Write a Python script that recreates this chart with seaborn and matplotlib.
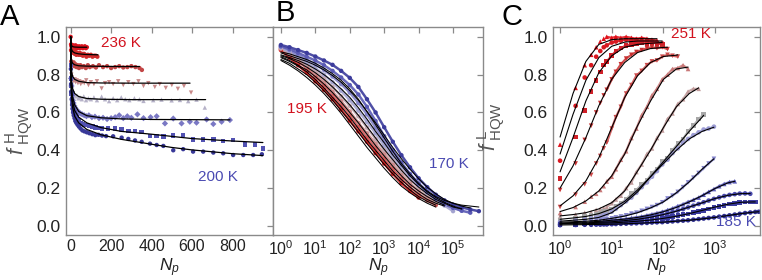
import numpy as np
import pandas as pd
import matplotlib
matplotlib.use("Agg")
import matplotlib.pyplot as plt
import seaborn as sns

# ================= Panel A data (linear Np) =================
a1_x = [0, 2, 4, 6, 8, 10, 12, 15, 18, 21, 24, 27, 30, 34, 38, 42, 46, 50, 55, 60, 65, 70, 75, 80]
a1_f = [1.00, 0.96, 0.95, 0.955, 0.945, 0.95, 0.955, 0.945, 0.95, 0.94, 0.955, 0.945, 0.95, 0.94, 0.945, 0.95, 0.94, 0.945, 0.95, 0.94, 0.945, 0.95, 0.94, 0.945]
a1_fit_x = [0, 1, 3, 6, 10, 20, 40, 80]
a1_fit_f = [1.0, 0.975, 0.96, 0.952, 0.948, 0.946, 0.945, 0.945]

a2_x = [2, 5, 8, 11, 14, 17, 20, 24, 28, 32, 36, 40, 45, 50, 55, 60, 66, 72, 78, 85, 92, 100, 108, 116, 124, 132]
a2_f = [0.93, 0.925, 0.92, 0.93, 0.915, 0.925, 0.91, 0.92, 0.905, 0.915, 0.91, 0.905, 0.915, 0.905, 0.91, 0.9, 0.91, 0.905, 0.895, 0.905, 0.9, 0.905, 0.895, 0.9, 0.9, 0.895]
a2_fit_x = [0, 1, 3, 6, 10, 20, 40, 70, 100, 135]
a2_fit_f = [1.0, 0.96, 0.94, 0.93, 0.922, 0.915, 0.91, 0.907, 0.906, 0.905]

a3_x = [3, 7, 11, 15, 19, 24, 29, 35, 41, 48, 56, 65, 75, 85, 95, 110, 125, 140, 160, 180, 200, 220, 240, 260, 280, 300, 320, 340, 352]
a3_f = [0.87, 0.86, 0.85, 0.865, 0.845, 0.855, 0.84, 0.85, 0.835, 0.85, 0.84, 0.845, 0.835, 0.85, 0.84, 0.845, 0.838, 0.85, 0.84, 0.845, 0.835, 0.84, 0.845, 0.838, 0.84, 0.845, 0.84, 0.835, 0.825]
a3_fit_x = [0, 1, 3, 6, 10, 20, 40, 80, 150, 250, 340]
a3_fit_f = [1.0, 0.93, 0.89, 0.87, 0.86, 0.852, 0.847, 0.845, 0.844, 0.843, 0.843]

a4_x = [3, 6, 9, 12, 16, 20, 25, 30, 36, 43, 50, 58, 67, 77, 88, 100, 115, 130, 153, 170, 190, 210, 235, 260, 285, 310, 335, 360, 384, 416, 440, 470, 500, 530, 560, 595]
a4_f = [0.80, 0.785, 0.775, 0.77, 0.765, 0.775, 0.76, 0.77, 0.755, 0.765, 0.75, 0.76, 0.755, 0.77, 0.745, 0.76, 0.75, 0.765, 0.727, 0.755, 0.76, 0.75, 0.765, 0.745, 0.76, 0.75, 0.765, 0.74, 0.755, 0.735, 0.75, 0.73, 0.745, 0.725, 0.74, 0.705]
a4_fit_x = [0, 1, 3, 6, 10, 20, 40, 80, 150, 300, 590]
a4_fit_f = [1.0, 0.9, 0.84, 0.81, 0.79, 0.775, 0.765, 0.758, 0.756, 0.755, 0.755]

a5_x = [3, 6, 9, 12, 16, 20, 25, 31, 38, 46, 55, 65, 76, 88, 100, 115, 130, 153, 170, 190, 210, 230, 250, 270, 290, 315, 340, 360, 408, 449, 499, 540, 581, 622, 663]
a5_f = [0.76, 0.74, 0.72, 0.71, 0.70, 0.695, 0.685, 0.69, 0.675, 0.68, 0.67, 0.685, 0.665, 0.675, 0.67, 0.68, 0.665, 0.684, 0.67, 0.66, 0.675, 0.665, 0.68, 0.67, 0.665, 0.675, 0.67, 0.661, 0.665, 0.668, 0.664, 0.666, 0.66, 0.668, 0.626]
a5_fit_x = [0, 1, 3, 6, 10, 20, 40, 80, 150, 300, 667]
a5_fit_f = [1.0, 0.86, 0.79, 0.75, 0.725, 0.70, 0.684, 0.674, 0.67, 0.668, 0.668]

a6_x = [2, 4, 6, 8, 11, 14, 18, 22, 27, 33, 40, 48, 57, 67, 78, 90, 105, 120, 140, 160, 180, 200, 220, 240, 260, 280, 300, 330, 360, 395, 425, 466, 507, 548, 589, 622, 672, 705, 746, 787]
a6_f = [0.78, 0.74, 0.71, 0.69, 0.665, 0.65, 0.635, 0.625, 0.615, 0.61, 0.60, 0.595, 0.59, 0.585, 0.58, 0.585, 0.575, 0.578, 0.57, 0.572, 0.565, 0.57, 0.575, 0.585, 0.57, 0.58, 0.572, 0.59, 0.57, 0.575, 0.58, 0.542, 0.568, 0.542, 0.551, 0.546, 0.563, 0.539, 0.551, 0.56]
a6_fit_x = [0, 1, 3, 6, 10, 20, 40, 80, 150, 250, 400, 787]
a6_fit_f = [1.0, 0.84, 0.76, 0.71, 0.68, 0.64, 0.605, 0.583, 0.572, 0.566, 0.563, 0.561]

a7_x = [1, 2, 3, 5, 7, 9, 12, 15, 19, 23, 28, 34, 41, 49, 58, 68, 80, 93, 107, 122, 138, 155, 186, 219, 252, 285, 318, 351, 392, 425, 458, 507, 556, 605, 655, 705, 754, 803, 861, 910, 950]
a7_f = [0.85, 0.78, 0.74, 0.70, 0.67, 0.65, 0.63, 0.61, 0.60, 0.585, 0.575, 0.565, 0.555, 0.545, 0.54, 0.535, 0.535, 0.53, 0.525, 0.52, 0.518, 0.515, 0.515, 0.515, 0.51, 0.503, 0.503, 0.498, 0.475, 0.475, 0.472, 0.479, 0.48, 0.457, 0.457, 0.457, 0.45, 0.453, 0.43, 0.43, 0.41]
a7_fit_x = [0, 1, 3, 6, 10, 20, 40, 80, 150, 250, 400, 600, 800, 950]
a7_fit_f = [1.0, 0.83, 0.74, 0.69, 0.655, 0.61, 0.575, 0.545, 0.52, 0.5, 0.485, 0.462, 0.449, 0.441]

a8_x = [1, 2, 3, 5, 7, 9, 12, 15, 19, 23, 28, 34, 41, 49, 58, 68, 80, 93, 107, 122, 138, 155, 175, 210, 252, 285, 318, 351, 392, 425, 458, 507, 556, 605, 655, 705, 754, 803, 853, 902, 945]
a8_f = [0.83, 0.75, 0.71, 0.67, 0.64, 0.62, 0.60, 0.585, 0.57, 0.555, 0.545, 0.535, 0.525, 0.515, 0.505, 0.50, 0.495, 0.49, 0.485, 0.48, 0.482, 0.478, 0.475, 0.474, 0.467, 0.46, 0.452, 0.445, 0.435, 0.428, 0.423, 0.40, 0.406, 0.393, 0.393, 0.388, 0.384, 0.375, 0.375, 0.375, 0.379]
a8_fit_x = [0, 1, 3, 6, 10, 20, 40, 80, 150, 250, 400, 500, 600, 800, 950]
a8_fit_f = [1.0, 0.81, 0.71, 0.66, 0.625, 0.58, 0.545, 0.51, 0.482, 0.458, 0.432, 0.415, 0.402, 0.382, 0.372]

# ================= Panel B data (log Np) =================
B_Np = [1, 1.78, 3.16, 5.62, 10, 17.8, 31.6, 56.2, 100, 178, 316, 562, 1000, 1780,
        3160, 5620, 10000, 17800, 31600, 56200, 100000, 178000, 316000, 562000]
b1_f = [0.93, 0.89, 0.85, 0.81, 0.765, 0.72, 0.67, 0.615, 0.557, 0.50, 0.445, 0.385, 0.33, 0.275, 0.226, 0.185, 0.15]
b1_fit = [0.875, 0.85, 0.82, 0.785, 0.745, 0.70, 0.65, 0.595, 0.535, 0.475, 0.415, 0.36, 0.305, 0.255, 0.21, 0.175, 0.145, 0.12, 0.10]
b2_f = [0.935, 0.905, 0.87, 0.835, 0.79, 0.745, 0.695, 0.64, 0.585, 0.53, 0.47, 0.41, 0.355, 0.30, 0.25, 0.205, 0.165, 0.135, 0.11]
b2_fit = [0.88, 0.86, 0.83, 0.80, 0.76, 0.715, 0.665, 0.61, 0.555, 0.495, 0.435, 0.38, 0.325, 0.275, 0.23, 0.19, 0.155, 0.13, 0.11]
b3_f = [0.94, 0.91, 0.88, 0.845, 0.805, 0.76, 0.71, 0.66, 0.605, 0.545, 0.49, 0.435, 0.38, 0.325, 0.27, 0.225, 0.185, 0.15, 0.125]
b3_fit = [0.89, 0.87, 0.845, 0.815, 0.775, 0.73, 0.68, 0.63, 0.575, 0.515, 0.455, 0.40, 0.345, 0.29, 0.245, 0.205, 0.17, 0.14, 0.12, 0.105]
b4_f = [0.94, 0.915, 0.885, 0.855, 0.82, 0.78, 0.735, 0.685, 0.635, 0.58, 0.52, 0.46, 0.40, 0.345, 0.29, 0.245, 0.205, 0.165, 0.135, 0.112]
b4_fit = [0.895, 0.875, 0.85, 0.825, 0.79, 0.75, 0.705, 0.655, 0.60, 0.545, 0.485, 0.425, 0.37, 0.315, 0.265, 0.22, 0.185, 0.155, 0.13, 0.11]
b5_f = [0.945, 0.92, 0.895, 0.865, 0.835, 0.80, 0.76, 0.715, 0.665, 0.61, 0.55, 0.49, 0.425, 0.365, 0.31, 0.26, 0.215, 0.175, 0.14, 0.108, 0.078]
b5_fit = [0.90, 0.885, 0.865, 0.84, 0.81, 0.775, 0.735, 0.69, 0.64, 0.585, 0.525, 0.465, 0.405, 0.35, 0.295, 0.245, 0.205, 0.17, 0.14, 0.12, 0.10, 0.09]
b6_f = [0.95, 0.93, 0.905, 0.88, 0.855, 0.825, 0.79, 0.75, 0.705, 0.65, 0.59, 0.52, 0.45, 0.385, 0.325, 0.27, 0.22, 0.18, 0.145, 0.12, 0.098, 0.082]
b6_fit = [0.905, 0.89, 0.875, 0.855, 0.83, 0.80, 0.765, 0.725, 0.68, 0.625, 0.565, 0.50, 0.44, 0.375, 0.32, 0.265, 0.22, 0.18, 0.15, 0.125, 0.105, 0.09]
b7_f = [0.95, 0.935, 0.915, 0.895, 0.875, 0.85, 0.82, 0.785, 0.745, 0.695, 0.63, 0.555, 0.475, 0.40, 0.335, 0.275, 0.225, 0.18, 0.145, 0.115, 0.095, 0.08, 0.07]
b7_fit = [0.915, 0.90, 0.885, 0.87, 0.85, 0.825, 0.795, 0.76, 0.715, 0.665, 0.605, 0.545, 0.48, 0.415, 0.355, 0.30, 0.25, 0.205, 0.17, 0.14, 0.12, 0.105, 0.095]
b8_f = [0.957, 0.945, 0.93, 0.915, 0.896, 0.875, 0.852, 0.82, 0.783, 0.735, 0.67, 0.60, 0.522, 0.445, 0.374, 0.31, 0.252, 0.205, 0.165, 0.135, 0.113, 0.098, 0.087, 0.078]
b8_fit = [0.92, 0.91, 0.895, 0.88, 0.86, 0.835, 0.805, 0.77, 0.725, 0.67, 0.605, 0.535, 0.465, 0.395, 0.33, 0.275, 0.225, 0.185, 0.155, 0.135, 0.12, 0.11, 0.105, 0.10]

# ================= Panel C data (log Np) =================
C_Np = [1, 2, 3, 4, 5, 6, 7, 8, 10, 12, 15, 19, 24, 30, 38, 48, 60, 75, 95, 120, 150, 190,
        240, 300, 380, 480, 600, 750, 950, 1200, 1500, 1900, 2400, 3000, 3800, 4800, 6000, 7000]
C_fit_Np = [1, 1.78, 3.16, 5.62, 10, 17.8, 31.6, 56.2, 100, 178, 316, 562, 1000, 1780, 3160, 5620]

c1_f = [0.43, 0.73, 0.85, 0.905, 0.945, 0.975, 0.99, 1.0, 0.995, 1.0, 0.995, 1.0, 0.995, 0.99, 0.995, 0.99, 0.985, 0.98]
c1_fit = [0.47, 0.70, 0.87, 0.96, 0.985, 0.99, 0.99, 0.99, 0.99]
c2_f = [0.345, 0.635, 0.785, 0.85, 0.895, 0.925, 0.945, 0.955, 0.97, 0.975, 0.98, 0.985, 0.98, 0.985, 0.975, 0.98, 0.975, 0.97, 0.965]
c2_fit = [0.38, 0.59, 0.77, 0.89, 0.95, 0.972, 0.978, 0.978, 0.978]
c3_f = [0.25, 0.47, 0.61, 0.71, 0.77, 0.815, 0.85, 0.87, 0.90, 0.925, 0.94, 0.955, 0.96, 0.965, 0.97, 0.965, 0.97, 0.965, 0.96]
c3_fit = [0.286, 0.467, 0.661, 0.81, 0.90, 0.945, 0.96, 0.966, 0.97]
c4_f = [0.19, 0.33, 0.455, 0.53, 0.60, 0.65, 0.69, 0.72, 0.775, 0.815, 0.855, 0.885, 0.905, 0.92, 0.93, 0.94, 0.945, 0.94, 0.945, 0.935]
c4_fit = [0.2, 0.317, 0.467, 0.635, 0.776, 0.864, 0.917, 0.938, 0.944, 0.945]
c5_f = [0.10, 0.165, 0.22, 0.27, 0.33, 0.37, 0.41, 0.44, 0.515, 0.575, 0.63, 0.70, 0.745, 0.795, 0.82, 0.85, 0.87, 0.875, 0.895, 0.905, 0.9, 0.895]
c5_fit = [0.106, 0.159, 0.238, 0.36, 0.52, 0.679, 0.794, 0.864, 0.896, 0.903, 0.905]
c6_f = [0.068, 0.10, 0.128, 0.155, 0.17, 0.19, 0.21, 0.235, 0.26, 0.30, 0.35, 0.395, 0.465, 0.515, 0.585, 0.63, 0.69, 0.725, 0.775, 0.80, 0.83, 0.835, 0.85, 0.83]
c6_fit = [0.076, 0.097, 0.132, 0.185, 0.265, 0.38, 0.53, 0.66, 0.775, 0.83, 0.84]
c7_f = [0.05, 0.06, 0.07, 0.072, 0.085, 0.09, 0.095, 0.10, 0.12, 0.14, 0.16, 0.20, 0.23, 0.285, 0.325, 0.38, 0.41, 0.465, 0.505, 0.565, 0.595, 0.645, 0.67, 0.71, 0.725, 0.725]
c7_fit = [0.053, 0.06, 0.07, 0.09, 0.123, 0.185, 0.29, 0.40, 0.52, 0.63, 0.70, 0.73]
c8_f = [0.03, 0.04, 0.05, 0.055, 0.062, 0.065, 0.075, 0.078, 0.09, 0.105, 0.12, 0.14, 0.17, 0.19, 0.22, 0.24, 0.28, 0.30, 0.34, 0.36, 0.40, 0.435, 0.46, 0.50, 0.53, 0.565, 0.59]
c8_fit = [0.035, 0.042, 0.05, 0.065, 0.09, 0.13, 0.19, 0.26, 0.34, 0.42, 0.50, 0.575, 0.585]
c9_f = [0.02, 0.03, 0.035, 0.04, 0.045, 0.05, 0.058, 0.06, 0.075, 0.09, 0.11, 0.13, 0.15, 0.175, 0.205, 0.23, 0.26, 0.29, 0.325, 0.35, 0.385, 0.41, 0.44, 0.46, 0.48, 0.495, 0.51, 0.515, 0.525]
c9_fit = [0.025, 0.03, 0.035, 0.045, 0.07, 0.12, 0.18, 0.26, 0.33, 0.40, 0.46, 0.50, 0.522]
c10_f = [0.015, 0.02, 0.022, 0.025, 0.028, 0.03, 0.034, 0.035, 0.04, 0.045, 0.05, 0.056, 0.065, 0.07, 0.08, 0.09, 0.10, 0.11, 0.125, 0.145, 0.16, 0.18, 0.205, 0.23, 0.255, 0.28, 0.305, 0.33, 0.355]
c10_fit = [0.02, 0.022, 0.025, 0.03, 0.04, 0.052, 0.07, 0.095, 0.127, 0.175, 0.233, 0.30, 0.355]
c11_f = [0.01, 0.015, 0.017, 0.02, 0.021, 0.023, 0.024, 0.026, 0.03, 0.032, 0.035, 0.038, 0.042, 0.046, 0.05, 0.056, 0.062, 0.068, 0.075, 0.084, 0.093, 0.105, 0.115, 0.127, 0.138, 0.15, 0.165, 0.18, 0.195, 0.21, 0.222, 0.232, 0.236]
c11_fit = [0.015, 0.018, 0.02, 0.024, 0.03, 0.036, 0.045, 0.058, 0.075, 0.098, 0.127, 0.16, 0.198, 0.228, 0.236]
c12_f = [0.01, 0.012, 0.014, 0.015, 0.016, 0.017, 0.018, 0.019, 0.022, 0.024, 0.026, 0.029, 0.032, 0.035, 0.039, 0.044, 0.049, 0.054, 0.06, 0.066, 0.073, 0.081, 0.089, 0.098, 0.107, 0.116, 0.125, 0.134, 0.143, 0.151, 0.158, 0.164, 0.168, 0.171, 0.172, 0.17]
c12_fit = [0.012, 0.014, 0.016, 0.019, 0.022, 0.028, 0.035, 0.046, 0.06, 0.078, 0.1, 0.122, 0.145, 0.162, 0.171, 0.171]
c13_f = [0.008, 0.009, 0.01, 0.011, 0.012, 0.012, 0.013, 0.014, 0.016, 0.017, 0.019, 0.021, 0.023, 0.025, 0.028, 0.031, 0.034, 0.037, 0.04, 0.044, 0.049, 0.054, 0.059, 0.064, 0.07, 0.076, 0.083, 0.089, 0.096, 0.103, 0.109, 0.115, 0.12, 0.124, 0.126, 0.127, 0.126]
c13_fit = [0.01, 0.011, 0.012, 0.014, 0.016, 0.02, 0.025, 0.031, 0.04, 0.051, 0.065, 0.082, 0.1, 0.115, 0.125, 0.127, 0.127]
c14_f = [0.004, 0.005, 0.006, 0.006, 0.007, 0.007, 0.008, 0.008, 0.009, 0.01, 0.011, 0.012, 0.013, 0.014, 0.015, 0.016, 0.018, 0.019, 0.02, 0.022, 0.024, 0.026, 0.028, 0.03, 0.033, 0.036, 0.039, 0.042, 0.045, 0.049, 0.052, 0.056, 0.06, 0.064, 0.068, 0.071, 0.074, 0.075]
c14_fit = [0.005, 0.006, 0.007, 0.008, 0.009, 0.011, 0.014, 0.017, 0.02, 0.025, 0.03, 0.037, 0.045, 0.055, 0.065, 0.073, 0.075]

Y_ticks = [0.0, 0.2, 0.4, 0.6, 0.8, 1.0]
A_xticks = [0, 200, 400, 600, 800]

# ================= styling =================
sns.set_theme(style="white")
plt.rcParams["font.family"] = ["Liberation Sans", "DejaVu Sans"]
plt.rcParams["mathtext.fontset"] = "custom"
plt.rcParams["mathtext.rm"] = "Liberation Sans"
plt.rcParams["mathtext.it"] = "Liberation Sans:italic"
plt.rcParams["mathtext.bf"] = "Liberation Sans:bold"

RED_TXT = "#d2121e"
BLUE_TXT = "#4a4ab2"
SPINE = "#8a8a8a"

A_colors = ["#da141e", "#cf2a2a", "#c24646", "#c98a8a", "#b6b2c8", "#7a78c4", "#5252b2", "#383898"]
A_markers = ["o", "o", "o", "v", "^", "D", "s", "o"]
B_colors = ["#d42020", "#d45a5a", "#cf8c8c", "#c4a8b0", "#a4a4d0", "#8282c8", "#5a5ab4", "#3c3c9c"]
C_colors = ["#e0101a", "#d81820", "#d02028", "#c83030", "#cc4a4a", "#c87878", "#c09a9a", "#a8a8a8",
            "#9c9cd4", "#8484cc", "#5a5ab8", "#4a4aac", "#3c3ca0", "#303092"]
C_markers = ["^", "o", "s", "v", "v", "^", "^", "s", "o", "v", "^", "o", "s", "o"]

# ---- assemble long tables ----
A_sets = [(a1_x, a1_f, a1_fit_x, a1_fit_f), (a2_x, a2_f, a2_fit_x, a2_fit_f),
          (a3_x, a3_f, a3_fit_x, a3_fit_f), (a4_x, a4_f, a4_fit_x, a4_fit_f),
          (a5_x, a5_f, a5_fit_x, a5_fit_f), (a6_x, a6_f, a6_fit_x, a6_fit_f),
          (a7_x, a7_f, a7_fit_x, a7_fit_f), (a8_x, a8_f, a8_fit_x, a8_fit_f)]
rows, frows = [], []
for i, (x, f, fx, ff) in enumerate(A_sets):
    rows += [dict(Np=a, f=b, s=f"A{i}") for a, b in zip(x, f)]
    frows += [dict(Np=a, f=b, s=f"A{i}") for a, b in zip(fx, ff)]
A_df, A_fit_df = pd.DataFrame(rows), pd.DataFrame(frows)

B_sets = [(b1_f, b1_fit), (b2_f, b2_fit), (b3_f, b3_fit), (b4_f, b4_fit),
          (b5_f, b5_fit), (b6_f, b6_fit), (b7_f, b7_fit), (b8_f, b8_fit)]
rows, frows = [], []
for i, (f, ff) in enumerate(B_sets):
    rows += [dict(Np=a, f=b, s=f"B{i}") for a, b in zip(B_Np, f)]
    frows += [dict(Np=a, f=b, s=f"B{i}") for a, b in zip(B_Np, ff)]
B_df, B_fit_df = pd.DataFrame(rows), pd.DataFrame(frows)

C_sets = [(c1_f, c1_fit), (c2_f, c2_fit), (c3_f, c3_fit), (c4_f, c4_fit), (c5_f, c5_fit),
          (c6_f, c6_fit), (c7_f, c7_fit), (c8_f, c8_fit), (c9_f, c9_fit), (c10_f, c10_fit),
          (c11_f, c11_fit), (c12_f, c12_fit), (c13_f, c13_fit), (c14_f, c14_fit)]
rows, frows = [], []
for i, (f, ff) in enumerate(C_sets):
    xs = C_Np[:len(f)]
    fxs = C_fit_Np[:len(ff) - 1] + [xs[-1]]
    rows += [dict(Np=a, f=b, s=f"C{i}") for a, b in zip(xs, f)]
    frows += [dict(Np=a, f=b, s=f"C{i}") for a, b in zip(fxs, ff)]
C_df, C_fit_df = pd.DataFrame(rows), pd.DataFrame(frows)

# ================= figure =================
W, H = 762, 280
fig = plt.figure(figsize=(W / 100, H / 100), dpi=100)
axA = fig.add_axes([66 / W, 45 / H, 207 / W, 208 / H])
axB = fig.add_axes([273 / W, 45 / H, 210 / W, 208 / H])
axC = fig.add_axes([553 / W, 45 / H, 207 / W, 208 / H])


def style_axes(ax, labelleft=True):
    for sp in ax.spines.values():
        sp.set_color(SPINE)
        sp.set_linewidth(1.0)
    ax.tick_params(which="major", direction="in", length=4, width=0.9, color=SPINE,
                   top=True, right=True, labelsize=12.5, pad=4, labelcolor="#222222",
                   labelleft=labelleft)
    ax.tick_params(axis="x", which="major", labelsize=11.5, pad=3)
    ax.tick_params(which="minor", length=0)
    ax.set_ylim(-0.048, 1.052)
    ax.set_yticks(Y_ticks)
    ax.set_yticklabels([f"{v:.1f}" for v in Y_ticks])
    ax.grid(False)


# ---- A ----
sns.scatterplot(data=A_df, x="Np", y="f", hue="s", style="s",
                palette=dict(zip([f"A{i}" for i in range(8)], A_colors)),
                markers=dict(zip([f"A{i}" for i in range(8)], A_markers)),
                s=10, linewidth=0, legend=False, ax=axA, zorder=2)
sns.lineplot(data=A_fit_df, x="Np", y="f", units="s", estimator=None, sort=False,
             color="black", lw=0.9, legend=False, ax=axA, zorder=3)
axA.set_xlim(-23, 1000)
axA.set_xticks(A_xticks)
style_axes(axA)
axA.text(249, 0.965, "236 K", color=RED_TXT, fontsize=11, ha="center", va="center")
axA.text(728, 0.258, "200 K", color=BLUE_TXT, fontsize=11, ha="center", va="center")

# ---- B ----
b_pal = dict(zip([f"B{i}" for i in range(8)], B_colors))
sns.lineplot(data=B_df, x="Np", y="f", hue="s", units="s", estimator=None, sort=False,
             palette=b_pal, lw=1.8, alpha=0.9, legend=False, ax=axB, zorder=2)
sns.scatterplot(data=B_df, x="Np", y="f", hue="s", palette=b_pal, s=10, linewidth=0,
                legend=False, ax=axB, zorder=2)
sns.lineplot(data=B_fit_df, x="Np", y="f", units="s", estimator=None, sort=False,
             color="black", lw=0.75, legend=False, ax=axB, zorder=3)
axB.set_xscale("log")
axB.set_xlim(0.59, 7.4e5)
axB.set_xticks([1, 10, 100, 1000, 1e4, 1e5])
style_axes(axB, labelleft=False)
axB.text(5.9, 0.62, "195 K", color=RED_TXT, fontsize=11, ha="center", va="center")
axB.text(7.6e4, 0.33, "170 K", color=BLUE_TXT, fontsize=11, ha="center", va="center")

# ---- C ----
c_keys = [f"C{i}" for i in range(14)]
c_pal = dict(zip(c_keys, C_colors))
band = C_df[C_df["Np"] >= 8]
sns.lineplot(data=band, x="Np", y="f", hue="s", units="s", estimator=None, sort=False,
             palette=c_pal, lw=1.6, alpha=0.85, legend=False, ax=axC, zorder=2)
sns.scatterplot(data=C_df, x="Np", y="f", hue="s", style="s", palette=c_pal,
                markers=dict(zip(c_keys, C_markers)), s=11, linewidth=0,
                legend=False, ax=axC, zorder=2)
sns.lineplot(data=C_fit_df, x="Np", y="f", units="s", estimator=None, sort=False,
             color="black", lw=0.8, legend=False, ax=axC, zorder=3)
axC.set_xscale("log")
axC.set_xlim(0.73, 7400)
axC.set_xticks([1, 10, 100, 1000])
style_axes(axC)
axC.text(345, 1.014, "251 K", color=RED_TXT, fontsize=11, ha="center", va="center")
axC.text(2580, 0.02, "185 K", color=BLUE_TXT, fontsize=11, ha="center", va="center")

# ---- labels ----
for ax in (axA, axB, axC):
    ax.set_xlabel(r"$N_p$", fontsize=12.5, color="#222222")
    ax.xaxis.set_label_coords(0.5, -0.105)
    ax.xaxis.label.set_va("top")
axB.set_ylabel("")
axA.set_ylabel(r"$f^{\ \mathrm{H}}_{\ \mathrm{HQW}}$", fontsize=15.5, color="#555555")
axA.yaxis.set_label_coords(-0.15, 0.5)
axC.set_ylabel(r"$f^{\ \mathrm{L}}_{\ \mathrm{HQW}}$", fontsize=15.5, color="#555555")
axC.yaxis.set_label_coords(-0.22, 0.52)

fig.text(0 / W, 1 - 3 / H, "A", fontsize=21, va="top", ha="left", color="black")
fig.text(276 / W, 1 + 1 / H, "B", fontsize=21, va="top", ha="left", color="black")
fig.text(501 / W, 1 - 3 / H, "C", fontsize=21, va="top", ha="left", color="black")

fig.savefig("out.png", dpi=100)
